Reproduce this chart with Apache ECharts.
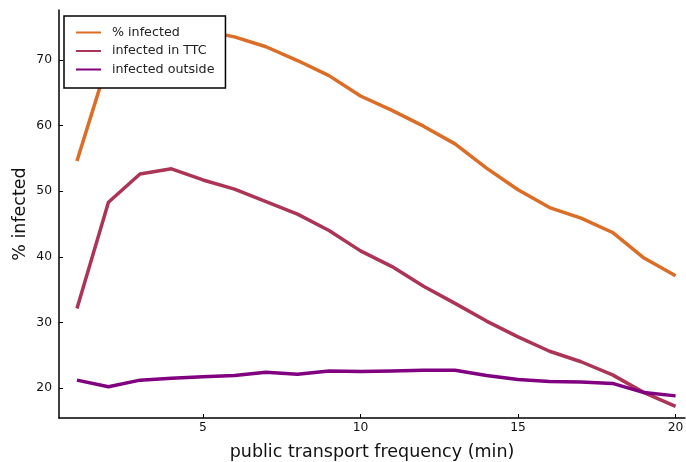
<!DOCTYPE html>
<html>
<head>
<meta charset="utf-8">
<script src="https://cdn.jsdelivr.net/npm/echarts@6/dist/echarts.min.js"></script>
<style>
html,body{margin:0;padding:0;background:#fff;}
#chart{width:686px;height:462px;}
</style>
</head>
<body>
<div id="chart"></div>
<script>
var frequency = [1,2,3,4,5,6,7,8,9,10,11,12,13,14,15,16,17,18,19,20];
var pctInfected = [54.6,70.0,72.5,74.3,74.5,73.5,72.0,69.9,67.6,64.5,62.3,59.9,57.2,53.5,50.2,47.5,45.9,43.7,39.8,37.1];
var infectedTTC = [32.1,48.3,52.6,53.4,51.7,50.3,48.4,46.5,44.0,40.9,38.5,35.5,32.9,30.2,27.8,25.6,24.0,22.0,19.3,17.2];
var infectedOutside = [21.2,20.2,21.2,21.5,21.7,21.9,22.4,22.1,22.6,22.5,22.6,22.7,22.7,21.9,21.3,21.0,20.9,20.7,19.3,18.8];
var xTicks = [5,10,15,20];
var yTicks = [20,30,40,50,60,70];
var seriesNames = ['% infected','infected in TTC','infected outside'];
var colors = ['#db6d27','#ac3557','#800080'];

function pairs(ys){ return frequency.map(function(x,i){ return [x, ys[i]]; }); }

var chart = echarts.init(document.getElementById('chart'), null, {renderer:'canvas'});
var font = 'DejaVu Sans';
var option = {
  animation:false,
  backgroundColor:'#ffffff',
  color: colors,
  grid:{left:59,right:1,top:10,bottom:44,containLabel:false,outerBoundsMode:'none'},
  legend:{
    orient:'vertical',
    left:64, top:16,
    backgroundColor:'#ffffff',
    borderColor:'#000000',
    borderWidth:1.5,
    borderRadius:0,
    padding:[10,11,12,11],
    itemWidth:25,
    itemHeight:14,
    itemGap:5.5,
    itemStyle:{opacity:0},
    lineStyle:{width:2},
    textStyle:{fontFamily:font,fontSize:12.7,color:'#222',padding:[0,0,0,6]},
    data: seriesNames
  },
  xAxis:{
    type:'value',
    min:0.43, max:20.3,
    name:'public transport frequency (min)',
    nameLocation:'middle',
    nameGap:25,
    nameMoveOverlap:false,
    nameTextStyle:{fontFamily:font,fontSize:17.5,color:'#111'},
    axisLine:{show:true,lineStyle:{color:'#000',width:1.5}},
    axisTick:{show:true,inside:true,length:4,customValues:xTicks,lineStyle:{color:'#000',width:1}},
    axisLabel:{customValues:xTicks,fontFamily:font,fontSize:12.3,color:'#111',margin:4},
    splitLine:{show:false}
  },
  yAxis:{
    type:'value',
    min:15.43, max:77.6,
    name:'% infected',
    nameLocation:'middle',
    nameGap:30,
    nameMoveOverlap:false,
    nameRotate:90,
    nameTextStyle:{fontFamily:font,fontSize:17.5,color:'#111'},
    axisLine:{show:true,lineStyle:{color:'#000',width:1.5}},
    axisTick:{show:true,inside:true,length:4,customValues:yTicks,lineStyle:{color:'#000',width:1}},
    axisLabel:{customValues:yTicks,fontFamily:font,fontSize:12.3,color:'#111',margin:7},
    splitLine:{show:false}
  },
  series:[
    {name:seriesNames[0],type:'line',data:pairs(pctInfected),symbol:'none',lineStyle:{width:3.5,color:colors[0]},itemStyle:{color:colors[0]},z:2},
    {name:seriesNames[1],type:'line',data:pairs(infectedTTC),symbol:'none',lineStyle:{width:3.5,color:colors[1]},itemStyle:{color:colors[1]},z:3},
    {name:seriesNames[2],type:'line',data:pairs(infectedOutside),symbol:'none',lineStyle:{width:3.5,color:colors[2]},itemStyle:{color:colors[2]},z:4}
  ]
};
chart.setOption(option);
</script>
</body>
</html>
